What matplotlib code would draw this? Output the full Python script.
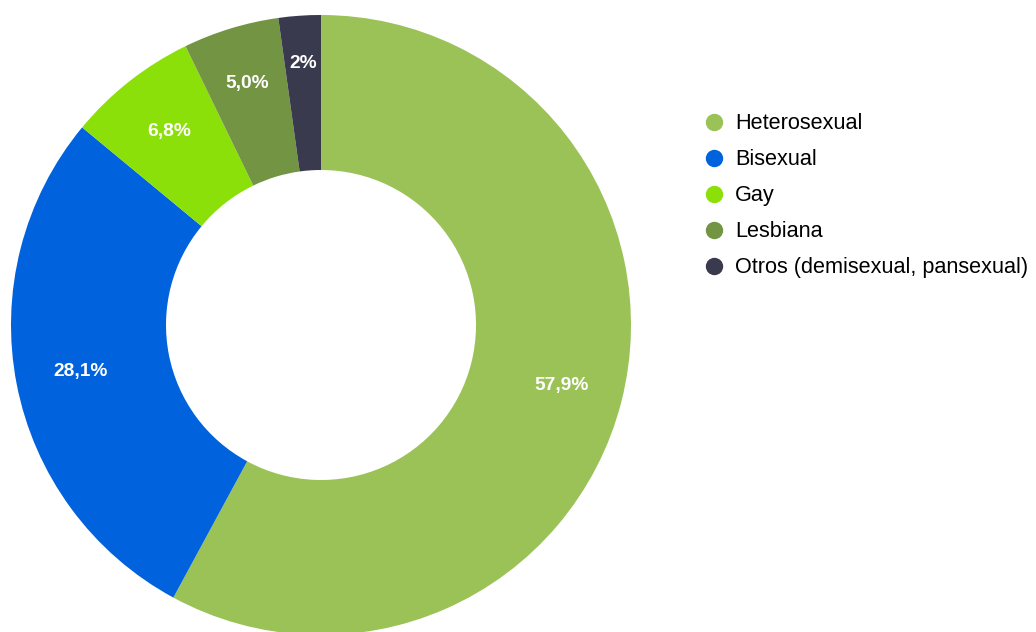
import matplotlib.pyplot as plt
import numpy as np

labels = ["Heterosexual", "Bisexual", "Gay", "Lesbiana", "Otros (demisexual, pansexual)"]
values = [57.9, 28.1, 6.8, 5.0, 2.2]
pct_text = ["57,9%", "28,1%", "6,8%", "5,0%", "2%"]
colors = ["#9bc257", "#0062dc", "#8ce00a", "#739443", "#3a3a4f"]

plt.rcParams['font.family'] = ['Liberation Sans', 'DejaVu Sans']

fig = plt.figure(figsize=(10.36, 6.32), dpi=100)
# donut area in pixel terms: x 11..631, y 15..635 (from top)
ax = fig.add_axes([11/1036, -3/632, 620/1036, 620/632])

wedges, _ = ax.pie(values, colors=colors, startangle=90, counterclock=False,
                   radius=1.0, wedgeprops=dict(width=0.5, linewidth=0))
ax.set_aspect('equal')
ax.set_xlim(-1, 1)
ax.set_ylim(-1, 1)

# label distance from centre (small slices sit a bit further out)
dist = [0.80, 0.79, 0.795, 0.815, 0.845]
start = 90.0
for v, t, d in zip(values, pct_text, dist):
    mid = np.deg2rad(start - v * 360 / 100 / 2)
    start -= v * 360 / 100
    ax.text(d * np.cos(mid), d * np.sin(mid), t, ha='center', va='center',
            color='white', fontsize=13.8, fontweight='bold')

ax.axis('off')

leg = fig.legend(wedges, labels, loc='upper left', bbox_to_anchor=(696/1036, 1 - 104/632),
                 frameon=False, fontsize=15.6, handlelength=0.8, handleheight=0.8,
                 handletextpad=0.6, labelspacing=0.695, borderaxespad=0)
for h in leg.legend_handles:
    h.set_visible(False)
# circular markers instead of square patches
fig.canvas.draw()
for txt, c in zip(leg.get_texts(), colors):
    bb = txt.get_window_extent()
    yc = (bb.y0 + bb.y1) / 2
    fig.add_artist(plt.Line2D([714/1036], [yc/632 + 0.002], marker='o', markersize=11.5,
                              color=c, linestyle='none', transform=fig.transFigure))

fig.savefig("out.png", dpi=100)
